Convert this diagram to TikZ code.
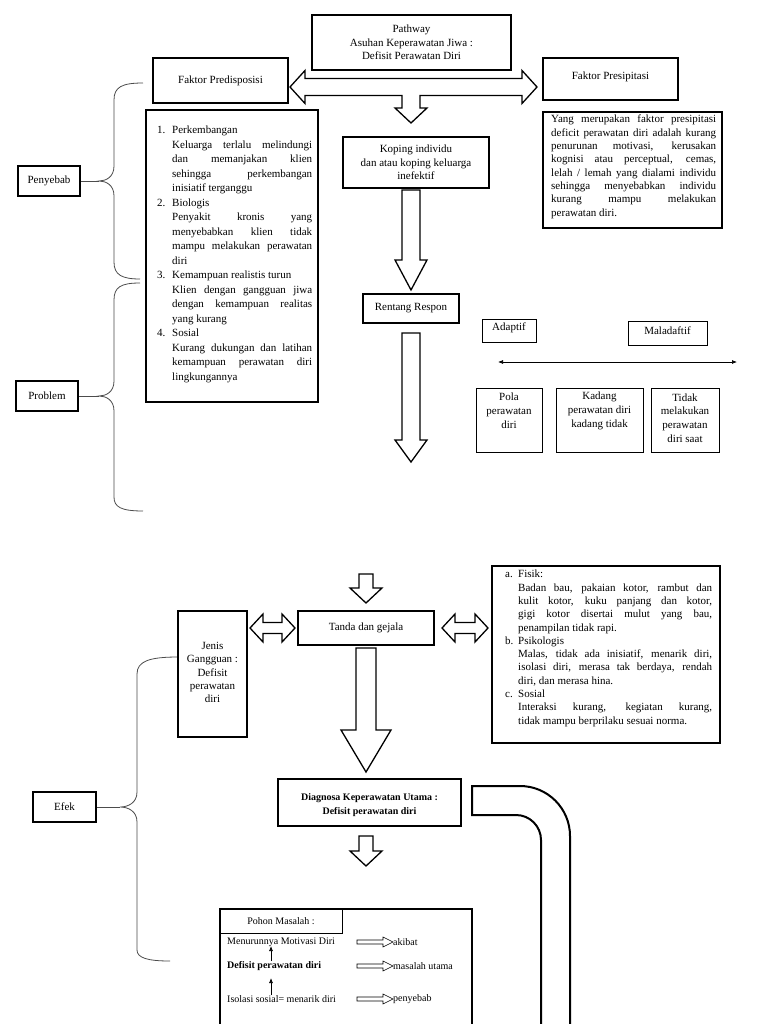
\documentclass[tikz,border=0pt]{standalone}
\usepackage{fontspec}
\setmainfont{Liberation Serif}
\usetikzlibrary{arrows.meta}
\newcommand\jpres[1]{\makebox[165pt][s]{#1}}
\newcommand\jlist[1]{\hspace*{15pt}\makebox[140pt][s]{#1}}
\newcommand\jfis[1]{\hspace*{13pt}\makebox[194pt][s]{#1}}
\newcommand\vblk[6]{\draw[blk] ({#1-#5},#2) -- ({#1-#5},#3) -- ({#1-#6},#3) -- (#1,#4) -- ({#1+#6},#3) -- ({#1+#5},#3) -- ({#1+#5},#2) -- cycle;}
\newcommand\hblk[6]{\draw[blk] (#2,#1) -- ({#2+#4},{#1-#6}) -- ({#2+#4},{#1-#5}) -- ({#3-#4},{#1-#5}) -- ({#3-#4},{#1-#6}) -- (#3,#1) -- ({#3-#4},{#1+#6}) -- ({#3-#4},{#1+#5}) -- ({#2+#4},{#1+#5}) -- ({#2+#4},{#1+#6}) -- cycle;}
\newcommand\hol[1]{\draw[line width=0.6pt] (357,{#1-2}) -- (383,{#1-2}) -- (383,{#1-5}) -- (393,#1) -- (383,{#1+5}) -- (383,{#1+2}) -- (357,{#1+2}) -- cycle;}
\begin{document}
\begin{tikzpicture}[x=1pt,y=-1pt,
  box/.style={draw,line width=1.2pt,inner sep=0pt,align=center,font=\fontsize{11}{13.3}\selectfont},
  bodybox/.style={draw,line width=1.6pt,inner sep=0pt},
  txt/.style={inner sep=0pt,align=left,font=\fontsize{11}{13.3}\selectfont},
  ctxt/.style={inner sep=0pt,align=center,font=\fontsize{11}{13.8}\selectfont},
  blk/.style={draw,line width=1.3pt,fill=white,line join=miter},
  pipe/.style={draw,line width=2pt},
  brc/.style={draw=black!70,line width=0.8pt},
  rline/.style={draw,line width=0.7pt,{Latex[length=5pt,width=4pt]}-{Latex[length=5pt,width=4pt]}},
  upar/.style={draw,line width=0.7pt,-{Latex[length=5pt,width=4pt]}}
]
\useasboundingbox (0,0) rectangle (768,1024);
\fill[white] (0,0) rectangle (768,1024);

% ---------- top ----------
\node[box, minimum width=199pt, minimum height=55pt] (title) at (411.5,42.5) {Pathway\\Asuhan Keperawatan Jiwa :\\Defisit Perawatan Diri};
\node[box, minimum width=135pt, minimum height=45pt] (pred) at (220.5,80.5) {Faktor Predisposisi};
\node[box, minimum width=135pt, minimum height=42pt] (pres) at (610.5,79) {};
\node[ctxt] (prest0) at (610.5,76.5) {Faktor Presipitasi};

\draw[blk] (290,87) -- (305,70.5) -- (305,78.5) -- (522,78.5) -- (522,70.5) -- (537,87) -- (522,103.5) -- (522,95.5) -- (420,95.5) -- (420,108) -- (427,108) -- (411,123) -- (395,108) -- (402,108) -- (402,95.5) -- (305,95.5) -- (305,103.5) -- cycle;

\node[bodybox, minimum width=179pt, minimum height=116pt] (presb) at (632.5,170) {};
\node[txt, anchor=north west] (prest) at (551,115) {%
\jpres{Yang merupakan faktor presipitasi}\\
\jpres{deficit perawatan diri adalah kurang}\\
\jpres{penurunan motivasi, kerusakan}\\
\jpres{kognisi atau perceptual, cemas,}\\
\jpres{lelah / lemah yang dialami individu}\\
\jpres{sehingga menyebabkan individu}\\
\jpres{kurang mampu melakukan}\\
perawatan diri.};

\node[bodybox, minimum width=172pt, minimum height=292pt] (predb) at (232,256) {};
\node[txt, anchor=north west, font=\fontsize{11}{14.5}\selectfont] (predt) at (157,126) {%
\makebox[15pt][l]{1.}Perkembangan\\
\jlist{Keluarga terlalu melindungi}\\
\jlist{dan memanjakan klien}\\
\jlist{sehingga perkembangan}\\
\hspace*{15pt}inisiatif terganggu\\
\makebox[15pt][l]{2.}Biologis\\
\jlist{Penyakit kronis yang}\\
\jlist{menyebabkan klien tidak}\\
\jlist{mampu melakukan perawatan}\\
\hspace*{15pt}diri\\
\makebox[15pt][l]{3.}Kemampuan realistis turun\\
\jlist{Klien dengan gangguan jiwa}\\
\jlist{dengan kemampuan realitas}\\
\hspace*{15pt}yang kurang\\
\makebox[15pt][l]{4.}Sosial\\
\jlist{Kurang dukungan dan latihan}\\
\jlist{kemampuan perawatan diri}\\
\hspace*{15pt}lingkungannya};

\node[box, minimum width=146pt, minimum height=51pt, font=\fontsize{11}{13.5}\selectfont] (kop) at (416,162.5) {Koping individu\\dan atau koping keluarga\\inefektif};
\vblk{411}{190}{260}{290}{9}{16}
\node[box, minimum width=96pt, minimum height=29pt] (ren) at (411,308.5) {Rentang Respon};
\vblk{411}{333}{440}{462}{9}{16}

\node[box, line width=1pt, minimum width=54pt, minimum height=23pt] (adap) at (509,330.5) {};
\node[ctxt] (adapt) at (509,328) {Adaptif};
\node[box, line width=1pt, minimum width=79pt, minimum height=24pt] (mal) at (667.5,333) {};
\node[ctxt] (malt) at (667.5,330.5) {Maladaftif};
\coordinate (la) at (498,362);
\coordinate (lb) at (737,362);
\draw[rline] (la) -- (lb);

\node[box, line width=1pt, minimum width=66pt, minimum height=64pt] (pola) at (509,420) {};
\node[ctxt] (polat) at (509,411) {Pola\\perawatan\\diri};
\node[box, line width=1pt, minimum width=87pt, minimum height=64pt] (kad) at (599.5,420) {};
\node[ctxt] (kadt) at (599.5,411) {Kadang\\perawatan diri\\kadang tidak};
\node[box, line width=1pt, minimum width=68pt, minimum height=64pt] (tdk) at (685,420) {};
\node[ctxt] (tdkt) at (685,418) {Tidak\\melakukan\\perawatan\\diri saat};

% ---------- left labels / braces ----------
\node[box, line width=1.5pt, minimum width=62pt, minimum height=30pt] (pen) at (49,181) {Penyebab};
\node[box, line width=1.5pt, minimum width=62pt, minimum height=30pt] (prob) at (47,396) {Problem};
\node[box, line width=1.5pt, minimum width=63pt, minimum height=30pt] (efek) at (64.5,807) {Efek};
\coordinate (c1) at (99,181);
\coordinate (c2) at (99,396);
\coordinate (c3) at (120,807);
\draw[brc] (pen.east) -- (c1);
\draw[brc] (prob.east) -- (c2);
\draw[brc] (efek.east) -- (c3);
\draw[brc] (143,83) .. controls (122,83) and (114,87) .. (114,100) -- (114,166) .. controls (114,177) and (106,181) .. (c1) .. controls (106,181) and (114,185) .. (114,196) -- (114,262) .. controls (114,275) and (122,279) .. (140,279);
\draw[brc] (140,283) .. controls (121,283) and (114,287) .. (114,300) -- (114,381) .. controls (114,392) and (106,396) .. (c2) .. controls (106,396) and (114,400) .. (114,411) -- (114,497) .. controls (114,507) and (121,511) .. (143,511);
\draw[brc] (178,657) .. controls (150,657) and (137,661) .. (137,674) -- (137,792) .. controls (137,803) and (128,807) .. (c3) .. controls (128,807) and (137,811) .. (137,822) -- (137,950) .. controls (137,958) and (148,961) .. (170,961);

% ---------- bottom ----------
\vblk{366}{574}{588}{603}{7}{16}
\node[box, minimum width=136pt, minimum height=34pt] (tanda) at (366,628) {Tanda dan gejala};
\hblk{628}{250}{295}{13}{5.5}{14}
\hblk{628}{442}{488}{13}{5.5}{14}
\node[box, minimum width=69pt, minimum height=126pt] (jenis) at (212.5,674) {};
\node[ctxt, font=\fontsize{11}{13.3}\selectfont] (jenist) at (212.5,672.5) {Jenis\\Gangguan :\\Defisit\\perawatan\\diri};

\node[bodybox, minimum width=228pt, minimum height=177pt] (fisb) at (606,654.5) {};
\node[txt, anchor=north west] (fist) at (505,570) {%
\makebox[13pt][l]{a.}Fisik:\\
\jfis{Badan bau, pakaian kotor, rambut dan}\\
\jfis{kulit kotor, kuku panjang dan kotor,}\\
\jfis{gigi kotor disertai mulut yang bau,}\\
\hspace*{13pt}penampilan tidak rapi.\\
\makebox[13pt][l]{b.}Psikologis\\
\jfis{Malas, tidak ada inisiatif, menarik diri,}\\
\jfis{isolasi diri, merasa tak berdaya, rendah}\\
\hspace*{13pt}diri, dan merasa hina.\\
\makebox[13pt][l]{c.}Sosial\\
\jfis{Interaksi kurang, kegiatan kurang,}\\
\hspace*{13pt}tidak mampu berprilaku sesuai norma.};

\vblk{366}{648}{730}{772}{10}{25}
\node[box, minimum width=183pt, minimum height=47pt] (diag) at (369.5,802.5) {};
\node[ctxt, font=\bfseries\fontsize{10}{13.5}\selectfont] (diagt) at (369.5,805) {Diagnosa Keperawatan Utama :\\Defisit perawatan diri};
\vblk{366}{836}{851}{866}{7}{16}

\draw[pipe] (570,1030) -- (570,836) arc[start angle=0,end angle=-90,radius=50] -- (472,786) -- (472,815) -- (516,815) arc[start angle=-90,end angle=0,radius=25] -- (541,1030);

\node[draw, line width=1.2pt, minimum width=252pt, minimum height=122pt, inner sep=0pt] (pohb) at (346,970) {};
\node[box, line width=1pt, minimum width=122pt, minimum height=24pt, font=\fontsize{10}{12}\selectfont] (pohon) at (281,921) {Pohon Masalah :};
\node[txt, anchor=west, font=\fontsize{10}{12}\selectfont] (m1) at (227,942) {Menurunnya Motivasi Diri};
\node[txt, anchor=west, font=\bfseries\fontsize{10}{12}\selectfont] (m2) at (227,966) {Defisit perawatan diri};
\node[txt, anchor=west, font=\fontsize{10}{12}\selectfont] (m3) at (227,999) {Isolasi sosial= menarik diri};
\coordinate (p1s) at (271,961);
\coordinate (p1e) at (271,946);
\coordinate (p2s) at (271,995);
\coordinate (p2e) at (271,978);
\draw[upar] (p1s) -- (p1e);
\draw[upar] (p2s) -- (p2e);
\hol{942}
\hol{966}
\hol{999}
\node[txt, anchor=west, font=\fontsize{10}{12}\selectfont] (k1) at (393,942) {akibat};
\node[txt, anchor=west, font=\fontsize{10}{12}\selectfont] (k2) at (393,966) {masalah utama};
\node[txt, anchor=west, font=\fontsize{10}{12}\selectfont] (k3) at (393,999) {penyebab};
\end{tikzpicture}
\end{document}
